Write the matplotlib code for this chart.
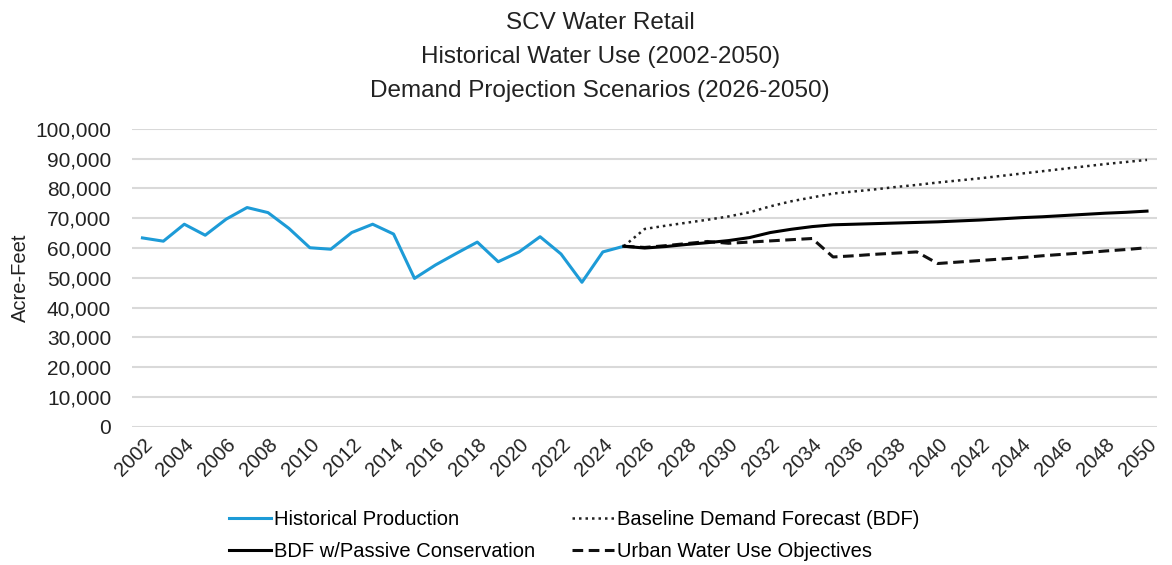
import matplotlib.pyplot as plt
from matplotlib.ticker import FuncFormatter

# historical production 2002-2025
hist_years = list(range(2002, 2026))
hist_vals = [63400, 62300, 68000, 64300, 69700, 73600, 71900, 66600, 60100, 59600,
             65200, 68000, 64700, 49800, 54300, 58200, 62000, 55400, 58700, 63800,
             58000, 48500, 58700, 60600]

# projections 2025-2050
proj_years = list(range(2025, 2051))
bdf_vals = [60600, 66400, 67500, 68500, 69500, 70600, 72000, 74000, 75700, 77000,
            78300, 79000, 79700, 80500, 81200, 82000, 82700, 83400, 84200, 85000,
            85800, 86600, 87400, 88200, 88900, 89600]
passive_vals = [60600, 60000, 60500, 61200, 61800, 62500, 63500, 65200, 66300, 67200,
                67800, 68000, 68200, 68400, 68600, 68800, 69100, 69400, 69800, 70200,
                70500, 70900, 71300, 71700, 72000, 72400]
uwuo_vals = [60600, 60200, 60800, 61500, 62200, 61600, 62000, 62400, 62800, 63200,
             57000, 57400, 57900, 58300, 58700, 54800, 55300, 55800, 56300, 56800,
             57400, 57900, 58400, 59000, 59500, 60100]

plt.rcParams['font.family'] = ['Liberation Sans', 'DejaVu Sans']

fig = plt.figure(figsize=(11.72, 5.65), dpi=100)
ax = fig.add_axes([0.1126, 0.2448, 0.875, 0.527])

l_hist, = ax.plot(hist_years, hist_vals, color='#1d9bd7', lw=2.2, label='Historical Production')
l_bdf, = ax.plot(proj_years, bdf_vals, color='#222222', lw=1.8, linestyle=(0, (1, 1.6)),
                 label='Baseline Demand Forecast (BDF)')
l_uwuo, = ax.plot(proj_years, uwuo_vals, color='#111111', lw=2.2, linestyle=(0, (3.5, 1.8)),
                  label='Urban Water Use Objectives')
l_pas, = ax.plot(proj_years, passive_vals, color='#000000', lw=2.2,
                 label='BDF w/Passive Conservation')

ax.set_xlim(2001.5, 2050.5)
ax.set_ylim(0, 100000)
ax.set_yticks(range(0, 100001, 10000))
ax.yaxis.set_major_formatter(FuncFormatter(lambda v, p: f'{int(v):,}'))
ax.set_xticks(range(2002, 2051, 2))
ax.set_xticklabels([str(y) for y in range(2002, 2051, 2)], rotation=45, ha='right',
                   rotation_mode='anchor')
ax.tick_params(axis='both', length=0, labelsize=15, colors='#222222')
ax.tick_params(axis='x', labelsize=14.5, pad=6)
ax.tick_params(axis='y', pad=15)
ax.grid(axis='y', color='#d9d9d9', lw=1.5)
ax.set_axisbelow(True)
for s in ax.spines.values():
    s.set_visible(False)

ax.set_ylabel('Acre-Feet', fontsize=14.5, color='#222222', labelpad=4)

fig.text(0.512, 0.978, 'SCV Water Retail\nHistorical Water Use (2002-2050)\nDemand Projection Scenarios (2026-2050)',
         ha='center', va='top', fontsize=17.5, linespacing=1.68, color='#222222')

fig.legend(handles=[l_hist, l_pas, l_bdf, l_uwuo], loc='upper center',
           bbox_to_anchor=(0.49, 0.13), ncol=2, frameon=False, fontsize=14.5,
           handlelength=2.1, handletextpad=0.15, columnspacing=1.8, labelspacing=0.65)

fig.savefig('out.png', dpi=100)
